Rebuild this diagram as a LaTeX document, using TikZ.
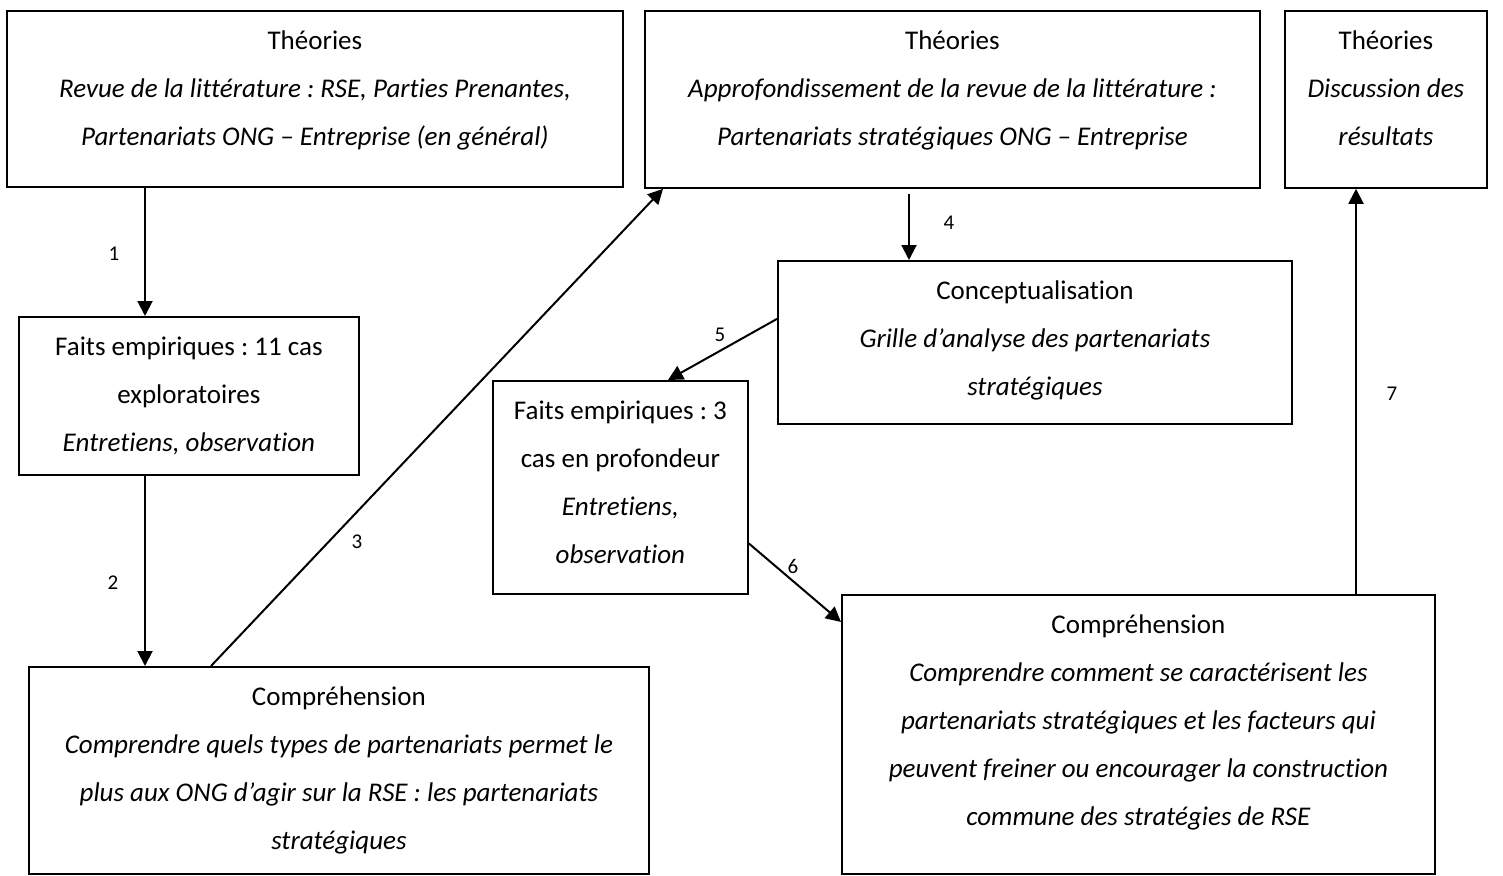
\documentclass[tikz,border=0pt]{standalone}
\usepackage{fontspec}
\setmainfont{Carlito}[Ligatures={TeX,NoCommon}]
\frenchspacing
\usetikzlibrary{arrows.meta}

% box content: width, height, lines
\newcommand{\boxtxt}[3]{\parbox[c][#2][t]{#1}{\centering\vspace*{5pt}\strut #3}}

\tikzset{
  etape/.style={draw, line width=1.8pt, inner sep=0pt, anchor=north west,
    font=\fontsize{27}{48}\selectfont},
  fleche/.style={-{Triangle[length=15pt,width=15pt]}, line width=2pt},
  num/.style={font=\fontsize{21}{24}\selectfont}
}

\begin{document}
\begin{tikzpicture}[x=1pt,y=-1pt]
    \useasboundingbox (0,0) rectangle (1503,875);

    % Theories
    \node[etape] (T1) at (6,10) {\boxtxt{616pt}{176pt}{Théories\\
      \textit{Revue de la littérature : RSE, Parties Prenantes,}\\
      \textit{Partenariats ONG – Entreprise (en général)}}};
    \node[etape] (T2) at (644,10) {\boxtxt{615pt}{177pt}{Théories\\
      \textit{Approfondissement de la revue de la littérature :}\\
      \textit{Partenariats stratégiques ONG – Entreprise}}};
    \node[etape] (T3) at (1284,10) {\boxtxt{202pt}{177pt}{Théories\\
      \textit{Discussion des}\\ \textit{résultats}}};

    % Faits empiriques
    \node[etape] (F1) at (18,316) {\boxtxt{340pt}{158pt}{Faits empiriques : 11 cas\\
      exploratoires\\ \textit{Entretiens, observation}}};
    \node[etape] (F2) at (492,380) {\boxtxt{255pt}{213pt}{Faits empiriques : 3\\
      cas en profondeur\\ \textit{Entretiens,}\\ \textit{observation}}};

    % Conceptualisation
    \node[etape] (C) at (777,260) {\boxtxt{514pt}{163pt}{Conceptualisation\\
      \textit{Grille d’analyse des partenariats}\\ \textit{stratégiques}}};

    % Comprehension
    \node[etape] (U1) at (28,666) {\boxtxt{620pt}{207pt}{Compréhension\\
      \textit{Comprendre quels types de partenariats permet le}\\
      \textit{plus aux ONG d’agir sur la RSE : les partenariats}\\
      \textit{stratégiques}}};
    \node[etape] (U2) at (841,594) {\boxtxt{593pt}{279pt}{Compréhension\\
      \textit{Comprendre comment se caractérisent les}\\
      \textit{partenariats stratégiques et les facteurs qui}\\
      \textit{peuvent freiner ou encourager la construction}\\
      \textit{commune des stratégies de RSE}}};

    % Arrows
    \draw[fleche] ([xshift=127pt]F1.north west |- T1.south) -- ([xshift=127pt]F1.north west);
    \draw[fleche] ([xshift=127pt]F1.south west) -- ([xshift=127pt]F1.south west |- U1.north);
    \draw[fleche] ([xshift=183pt]U1.north west) -- ([xshift=19pt]T2.south west);
    \draw[fleche] ([xshift=132pt,yshift=-5pt]C.north west |- T2.south) -- ([xshift=132pt]C.north west);
    \draw[fleche] ([yshift=23.5pt]C.west) -- ([xshift=176pt]F2.north west);
    \draw[fleche] ([yshift=-56pt]F2.east) -- ([yshift=-28pt]U2.north west);
    \draw[fleche] ([xshift=515pt]U2.north west) -- ([xshift=515pt]U2.north west |- T3.south);

    % Step numbers
    \node[num] (n1) at (114,254) {1};
    \node[num] (n2) at (113,583) {2};
    \node[num] (n3) at (357,542) {3};
    \node[num] (n4) at (949,223) {4};
    \node[num] (n5) at (720,335) {5};
    \node[num] (n6) at (793,566) {6};
    \node[num] (n7) at (1392,394) {7};
\end{tikzpicture}
\end{document}
